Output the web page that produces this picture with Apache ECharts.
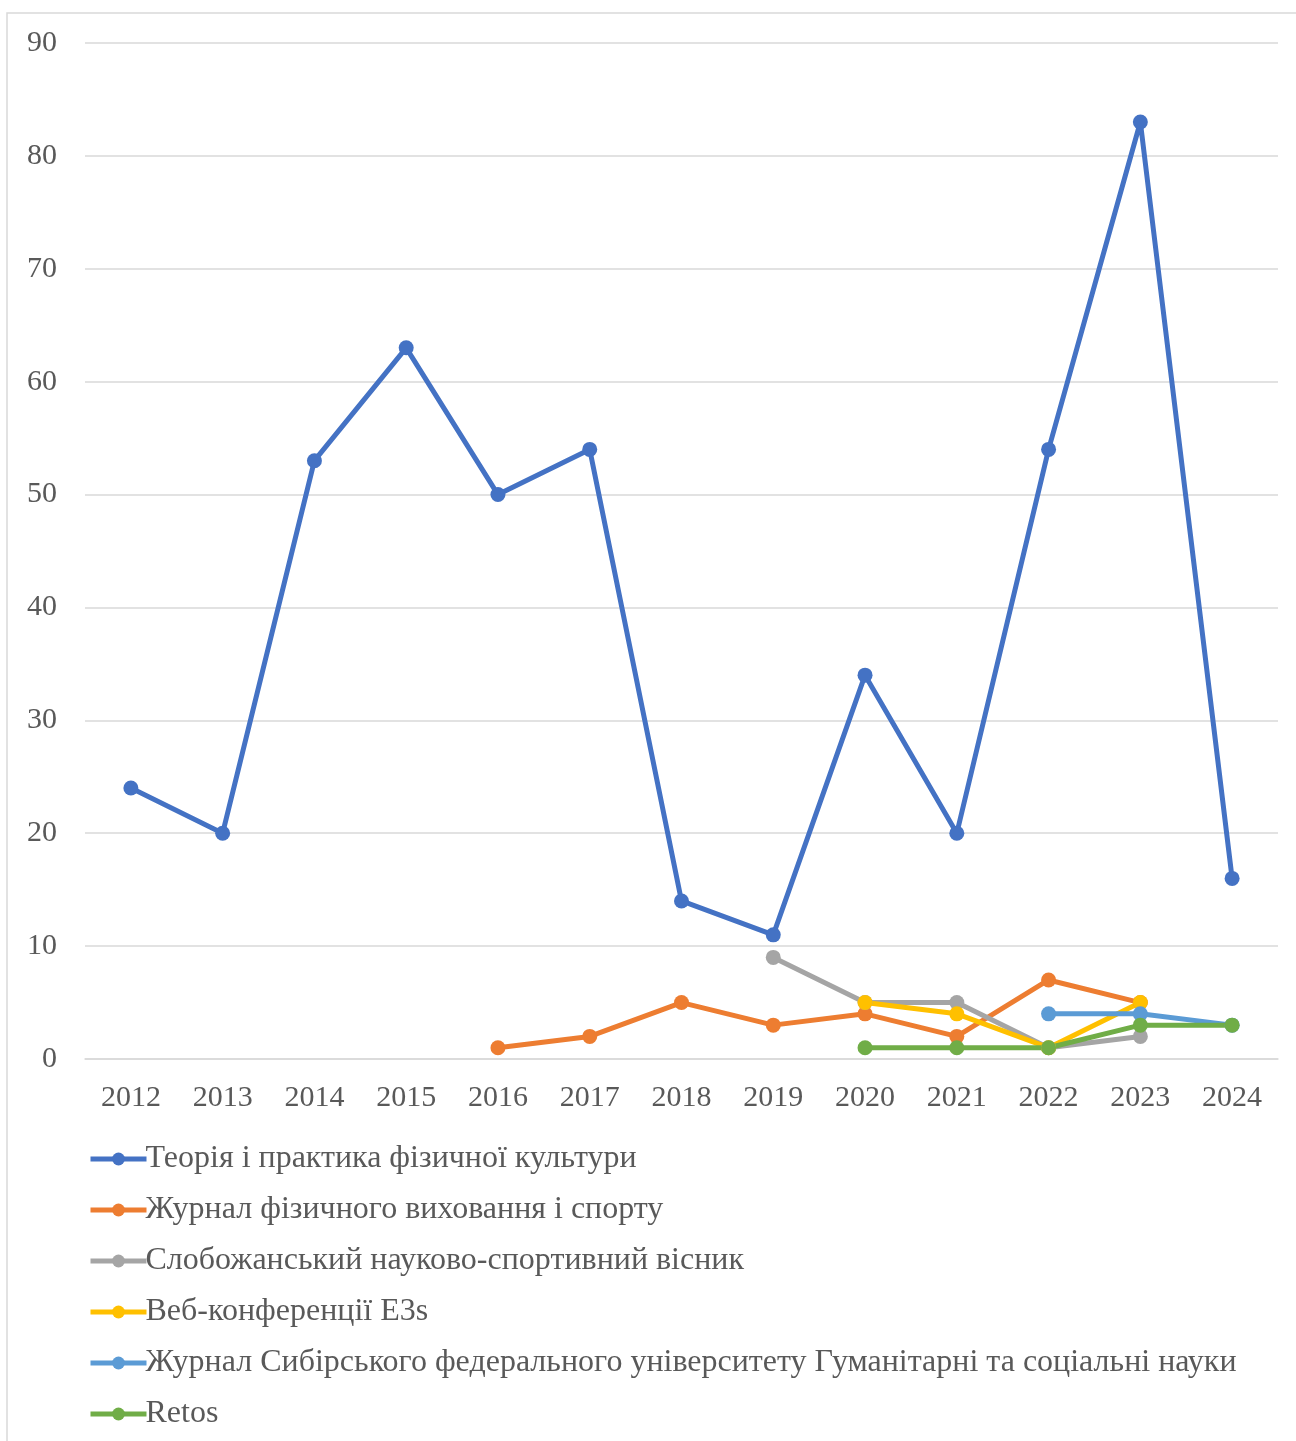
<!DOCTYPE html>
<html><head><meta charset="utf-8">
<style>html,body{margin:0;padding:0;background:#fff;}#c{width:1296px;height:1441px;}</style>
<script src="https://cdn.jsdelivr.net/npm/echarts@6/dist/echarts.min.js"></script>
</head><body><div id="c"></div>
<script>
const years = ['2012','2013','2014','2015','2016','2017','2018','2019','2020','2021','2022','2023','2024'];
const names = [
  'Теорія і практика фізичної культури',
  'Журнал фізичного виховання і спорту',
  'Слобожанський науково-спортивний вісник',
  'Веб-конференції E3s',
  'Журнал Сибірського федерального університету Гуманітарні та соціальні науки',
  'Retos'
];
const teoriya = [24,20,53,63,50,54,14,11,34,20,54,83,16];
const zhurnalFiz = [null,null,null,null,1,2,5,3,4,2,7,5,null];
const slobozhanskyi = [null,null,null,null,null,null,null,9,5,5,1,2,null];
const e3s = [null,null,null,null,null,null,null,null,5,4,1,5,null];
const sibirskyi = [null,null,null,null,null,null,null,null,null,null,4,4,3];
const retos = [null,null,null,null,null,null,null,null,1,1,1,3,3];
const yTicks = [0,10,20,30,40,50,60,70,80,90];

const colors = ['#4472C4','#ED7D31','#A5A5A5','#FFC000','#5B9BD5','#70AD47'];
const seriesData = [teoriya, zhurnalFiz, slobozhanskyi, e3s, sibirskyi, retos];
const font = '"Liberation Serif","Times New Roman",serif';
const chart = echarts.init(document.getElementById('c'));
chart.setOption({
  animation:false,
  color: colors,
  graphic:[{type:'rect',shape:{x:7,y:13,width:1300,height:1440},style:{fill:'none',stroke:'#d9d9d9',lineWidth:1.5},silent:true}],
  grid:{left:85,right:18,top:43,bottom:382},
  legend:{
    orient:'vertical', left:83, top:1138, itemGap:19, itemWidth:56, itemHeight:16,
    lineStyle:{width:5},
    textStyle:{fontFamily:font,fontSize:32,color:'#595959',padding:[0,0,0,-6]},
    data: names
  },
  xAxis:{type:'category',data:years,boundaryGap:true,
    axisLine:{lineStyle:{color:'#d9d9d9',width:1.5}},axisTick:{show:false},
    axisLabel:{fontFamily:font,fontSize:30,color:'#595959',margin:24}},
  yAxis:{type:'value',min:0,max:90,interval:10,
    axisLine:{show:false},axisTick:{show:false},
    splitLine:{lineStyle:{color:'#d9d9d9',width:1.5}},
    axisLabel:{fontFamily:font,fontSize:30,color:'#595959',margin:28,padding:[4,0,0,0],
      formatter:v=>yTicks.includes(v)?String(v):''}},
  series: names.map((n,i)=>({
    name:n,type:'line',data:seriesData[i],symbol:'circle',symbolSize:15,
    lineStyle:{width:5,color:colors[i]},itemStyle:{color:colors[i]},
    connectNulls:false
  }))
});
</script></body></html>
